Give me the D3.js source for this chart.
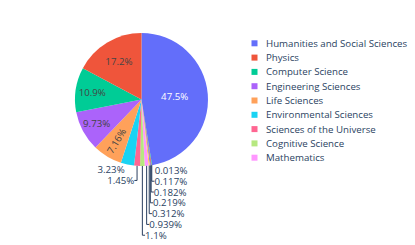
<!DOCTYPE html>
<html><head><meta charset="utf-8">
<script src="https://cdn.jsdelivr.net/npm/d3@7"></script>
<style>
body{margin:0;background:#fff}
svg{display:block}
text{font-family:"Open Sans",sans-serif}
</style>
</head><body>
<script>
// ---- data ----
const categories = ["Humanities and Social Sciences","Physics","Computer Science","Engineering Sciences",
  "Life Sciences","Environmental Sciences","Sciences of the Universe","Cognitive Science","Mathematics"];
// slice shares in percent (last five slices are unnamed in the legend)
const shares = [47.46,17.19,10.9,9.73,7.16,3.23,1.45,1.1,0.939,0.312,0.219,0.182,0.117,0.013];
const palette = ["#636efa","#EF553B","#00cc96","#ab63fa","#FFA15A","#19d3f3","#FF6692","#B6E880","#FF97FF","#FECB52"];

// ---- layout ----
const W = 415, H = 245;
const cx = 141.5, cy = 99.5, R = 66.5;
const FS = 9.7;
const LINE_H = 10.8;
const TEXTPAD = 3;
const textColor = "#2a3f5f";

const svg = d3.select("body").append("svg").attr("width", W).attr("height", H);
svg.append("rect").attr("width", W).attr("height", H).attr("fill", "#fff");

const total = d3.sum(shares);
const items = shares.map((v, i) => ({v, i, name: categories[i] || "", color: palette[i % palette.length]}));
// first slice from 12 o'clock clockwise, remaining slices continue from the smallest up
const ordered = [items[0]].concat(items.slice(1).reverse());
const arcs = d3.pie().sort(null).value(d => d.v)(ordered);
const arcGen = d3.arc().innerRadius(0).outerRadius(R);

const g = svg.append("g").attr("transform", `translate(${cx},${cy})`);
g.selectAll("path.slice").data(arcs).join("path").attr("class", "slice")
  .attr("d", arcGen).attr("fill", d => d.data.color);

const fmt = d3.format(".3~r");
function isDark(hex){
  const c = d3.rgb(hex);
  return (c.r*299 + c.g*587 + c.b*114)/1000 < 128;
}
function measure(str){
  const t = svg.append("text").attr("font-size", FS).text(str);
  const b = t.node().getBBox();
  t.remove();
  return {w: b.width, h: b.height};
}
function calcMaxHalfSize(a, half, r, ring){
  const q = a + 1/(2*Math.tan(half));
  return r*Math.min(1/(Math.sqrt(q*q+0.5)+q), ring/(Math.sqrt(a*a+ring/2)+a));
}
function calcRCenter(a, b){ return Math.cos(b) - a*b; }
function calcRotate(t){ return (180/Math.PI*t + 720) % 180 - 90; }

const textLayer = svg.append("g");
const outside = [];
arcs.forEach(a => {
  const pct = a.data.v/total*100;
  const label = fmt(pct) + "%";
  const bb = measure(label);
  const th = LINE_H;
  const half = (a.endAngle - a.startAngle)/2;
  const mid = (a.startAngle + a.endAngle)/2;
  const px = [R*Math.sin(mid), -R*Math.cos(mid)];
  // horizontal fit
  const rIns = Math.min(1/(1+1/Math.sin(half)), 0.5);
  const diam = Math.hypot(bb.w, th);
  let tr = {scale: rIns*R*2/diam, rCenter: 1 - rIns, rotate: 0};
  if (tr.scale < 1){
    const rr = Math.max(0, R - 2*TEXTPAD);
    const aR = bb.w/th, sR = calcMaxHalfSize(aR, half, rr, 1);
    const rad = {scale: sR*2/th, rCenter: calcRCenter(aR, sR/rr), rotate: calcRotate(mid)};
    const aT = th/bb.w, sT = calcMaxHalfSize(aT, half, rr, 1);
    const tan = {scale: sT*2/bb.w, rCenter: calcRCenter(aT, sT/rr), rotate: calcRotate(mid + Math.PI/2)};
    tr = rad.scale >= tan.scale ? rad : tan;
  }
  if (tr.scale >= 1){
    const x = cx + px[0]*tr.rCenter, y = cy + px[1]*tr.rCenter;
    textLayer.append("text")
      .attr("transform", `translate(${x},${y}) rotate(${tr.rotate})`)
      .attr("text-anchor", "middle").attr("dominant-baseline", "central")
      .attr("font-size", FS)
      .attr("fill", isDark(a.data.color) ? "#fff" : "#444")
      .text(label);
  } else {
    let dx = bb.w/2, dy = th/2;
    if (px[0] < 0) dx *= -1;
    if (px[1] < 0) dy *= -1;
    const ox = dx + Math.abs(dy)*(dx > 0 ? 1 : -1)/2;
    const oy = dy/(1 + px[0]*px[0]/(px[1]*px[1]));
    outside.push({label, w: bb.w, h: th, px, x: cx + px[0] + ox, y: cy + px[1] + oy, extraY: 0});
  }
});

// scoot outside labels vertically away from the equator, per quadrant
[0, 1].forEach(bottom => {
  [0, 1].forEach(right => {
    const quad = outside.filter(p => (p.px[1] >= 0) === !!bottom && (p.px[0] >= 0) === !!right);
    quad.sort((a, b) => bottom ? a.px[1] - b.px[1] : b.px[1] - a.px[1]);
    quad.forEach((p, k) => {
      if (!k) return;
      const prev = quad[k-1];
      if (bottom){
        const ny = (prev.y + prev.extraY + prev.h/2) - (p.y - p.h/2);
        if (ny > 0) p.extraY = ny;
      } else {
        const ny = (prev.y + prev.extraY - prev.h/2) - (p.y + p.h/2);
        if (ny < 0) p.extraY = ny;
      }
    });
  });
});

outside.forEach(p => {
  const ty = p.y + p.extraY;
  if (Math.abs(p.extraY) > 0.01){
    const sx = cx + p.px[0], sy = cy + p.px[1];
    const edge = p.x + (p.px[0] >= 0 ? -p.w/2 : p.w/2);
    textLayer.append("path")
      .attr("d", `M${sx},${sy}V${ty}H${edge}`)
      .attr("fill", "none").attr("stroke", textColor).attr("stroke-width", 1);
  }
  textLayer.append("text")
    .attr("x", p.x).attr("y", ty)
    .attr("text-anchor", "middle").attr("dominant-baseline", "central")
    .attr("font-size", FS).attr("fill", textColor)
    .text(p.label);
});

// ---- legend ----
const legendY = d3.scalePoint().domain(categories).range([43.3, 157.7]);
const lg = svg.append("g");
categories.forEach((c, i) => {
  const y = legendY(c);
  lg.append("rect").attr("x", 251.5).attr("y", y - 3).attr("width", 6).attr("height", 6)
    .attr("fill", palette[i % palette.length]);
  lg.append("text").attr("x", 266).attr("y", y).attr("dominant-baseline", "central")
    .attr("font-size", FS).attr("fill", textColor).text(c);
});
</script>
</body></html>
